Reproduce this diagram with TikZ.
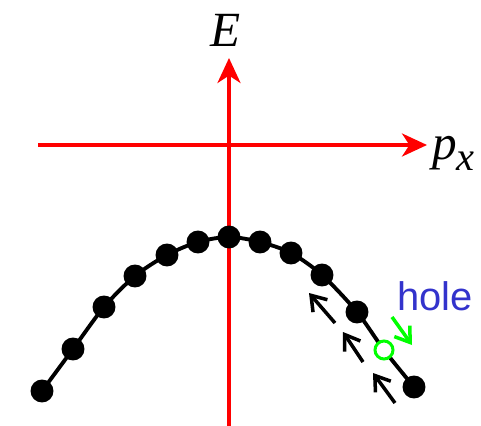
\documentclass[tikz,border=0pt]{standalone}
\usepackage{fontspec}
\setmainfont{LiberationSerif}[Extension=.ttf, UprightFont=*-Regular, ItalicFont=*-Italic]
\newfontfamily\labelfont{LiberationSans}[Extension=.ttf, UprightFont=*-Regular]
\usetikzlibrary{arrows.meta,backgrounds}
\definecolor{holeblue}{rgb}{0.2,0.2,0.8}
\definecolor{holegreen}{rgb}{0,1,0}

\begin{document}
\begin{tikzpicture}[x=0.02cm, y=-0.02cm,
    electron/.style={circle, fill=black, inner sep=0pt, minimum size=0.46cm},
    hole/.style={circle, draw=holegreen, fill=white, line width=1.7pt, inner sep=0pt, minimum size=0.36cm},
    axis/.style={red, line width=2.2pt, -{Stealth[length=0.5cm, width=0.46cm, inset=0.15cm]}},
    drift/.style={line width=2pt, -{Straight Barb[length=0.28cm, width=0.38cm]}},
    band/.style={line width=2.2pt},
    axislabel/.style={inner sep=0pt, font=\fontsize{28}{28}\selectfont\itshape}
]
    \useasboundingbox (0,0) rectangle (481,426);

    \coordinate (xstart) at (38,145);
    \coordinate (xend) at (427,145);
    \coordinate (ystart) at (229,426);
    \coordinate (yend) at (229,58);
    \draw[axis] (xstart) -- (xend);
    \draw[axis] (ystart) -- (yend);
    \node[axislabel] (elabel) at (226,30) {E};
    \node[axislabel, anchor=base west] (plabel) at (432,159) {p\raisebox{-0.24cm}{\fontsize{23}{23}\selectfont x}};

    \foreach \px/\py [count=\i] in {42/391,73/349,104/307,135/276,167/255,198/242,229/237,260/242,291/253,322/275,357/312}
        \node[electron] (e\i) at (\px,\py) {};
    \node[hole] (hole) at (384,350) {};
    \node[electron] (e12) at (414,387) {};

    \begin{scope}[on background layer]
        \draw[band] plot[smooth] coordinates {(e1.center) (e2.center) (e3.center) (e4.center) (e5.center) (e6.center) (e7.center) (e8.center) (e9.center) (e10.center) (e11.center) (hole.center) (e12.center)};
    \end{scope}

    \node[text=holeblue, inner sep=0pt, font=\labelfont\fontsize{22.7}{22.7}\selectfont] (holelabel) at (435,296) {hole};

    \coordinate (a1) at (335,323);
    \coordinate (b1) at (309,293);
    \coordinate (a2) at (363,362);
    \coordinate (b2) at (343,332);
    \coordinate (a3) at (395,403);
    \coordinate (b3) at (373,373);
    \draw[drift] (a1) -- (b1);
    \draw[drift] (a2) -- (b2);
    \draw[drift] (a3) -- (b3);

    \coordinate (g1) at (392,317);
    \coordinate (g2) at (412,345);
    \draw[drift, holegreen] (g1) -- (g2);
\end{tikzpicture}
\end{document}
